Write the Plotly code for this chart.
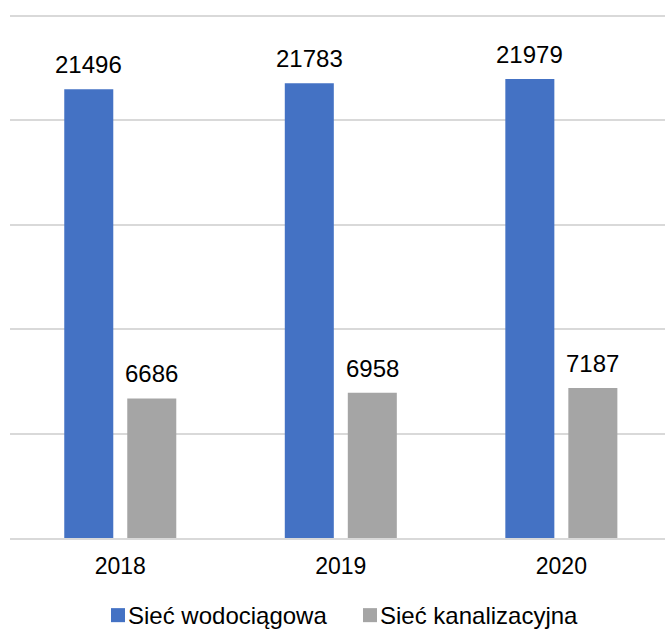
import plotly.graph_objects as go

years = ["2018", "2019", "2020"]
water = [21496, 21783, 21979]
sewer = [6686, 6958, 7187]
series_names = ["Sieć wodociągowa", "Sieć kanalizacyjna"]
colors = ["#4472C4", "#A5A5A5"]

font = "Liberation Sans, Arial, sans-serif"


def main():
    fig = go.Figure()
    for name, vals, col in zip(series_names, [water, sewer], colors):
        fig.add_trace(go.Bar(x=years, y=vals, name=name, marker_color=col,
                             marker_line_width=0, showlegend=False))

    # data labels above the bars (x given as category index)
    for shift, vals in [(-31.5, water), (31.5, sewer)]:
        for i, v in enumerate(vals):
            fig.add_annotation(x=i, y=v, xref="x", yref="y", text=str(v),
                               showarrow=False, xshift=shift, yshift=9,
                               yanchor="bottom",
                               font=dict(size=24, color="#000000", family=font))

    # legend drawn by hand so the swatch sits close to its text
    leg_x = [111, 363]
    for lx, name, col in zip(leg_x, series_names, colors):
        fig.add_shape(type="rect", xref="paper", yref="paper",
                      x0=(lx - 10) / 655, x1=(lx + 4) / 655,
                      y0=-(608 - 538) / 522, y1=-(622 - 538) / 522,
                      fillcolor=col, line_width=0)
        fig.add_annotation(x=(lx + 5) / 655, y=-(615.5 - 538) / 522,
                           xref="paper", yref="paper", text=name,
                           showarrow=False, xanchor="left", yanchor="middle",
                           font=dict(size=24, color="#000000", family=font))

    fig.update_layout(
        width=665, height=629,
        margin=dict(l=10, r=0, t=15, b=91),
        paper_bgcolor="white", plot_bgcolor="white",
        barmode="group", bargap=0.4286, bargroupgap=0.222,
        font=dict(family=font, size=23, color="#000000"),
        showlegend=False,
        xaxis=dict(type="category", range=[-0.5, 2.47], showgrid=False,
                   showline=True, linecolor="#d9d9d9", linewidth=1.5,
                   ticks="outside", ticklen=7, tickcolor="rgba(0,0,0,0)",
                   tickfont=dict(size=23)),
        yaxis=dict(range=[0, 25050], tickvals=[5000, 10000, 15000, 20000, 25000],
                   showticklabels=False, gridcolor="#d9d9d9", gridwidth=1.5,
                   zeroline=False),
    )
    fig.write_html("out.html", config={"displayModeBar": False},
                   post_script="document.body.style.margin='0px';")


if __name__ == "__main__":
    main()
